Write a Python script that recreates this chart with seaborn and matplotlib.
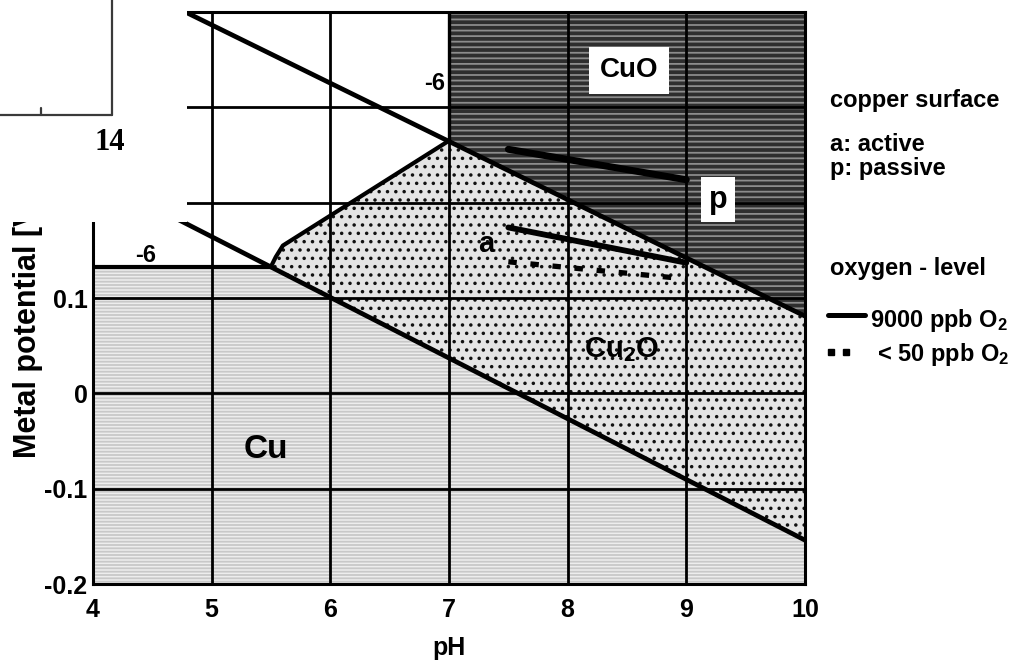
import matplotlib
matplotlib.use("Agg")
import matplotlib.pyplot as plt
from matplotlib.lines import Line2D
from matplotlib.patches import Rectangle
import seaborn as sns

# axis ticks
ph_ticks = [4, 5, 6, 7, 8, 9, 10]
e_ticks = [-0.2, -0.1, 0.0, 0.1, 0.2, 0.3, 0.4]
e_tick_labels = ["-0.2", "-0.1", "0", "0.1", "0.2", "0.3", "0.4"]

# phase boundaries (pH, potential in V)
cu_cu2o_ph = [4.0, 10.0]
cu_cu2o_e = [0.228, -0.154]
cu2o_cuo_ph = [4.5, 10.0]
cu2o_cuo_e = [0.417, 0.081]
cu_ion_ph = [4.0, 5.5]
cu_ion_e = [0.133, 0.133]
cu2o_ion_ph = [5.5, 5.54, 5.6, 7.0]
cu2o_ion_e = [0.133, 0.143, 0.155, 0.265]
cuo_ion_ph = [7.0, 7.0]
cuo_ion_e = [0.265, 0.4]

# measured copper potentials
passive_ph = [7.5, 9.0]
passive_e = [0.256, 0.224]
active_ph = [7.5, 9.0]
active_e = [0.174, 0.137]
active_low_o2_ph = [7.5, 9.0]
active_low_o2_e = [0.138, 0.120]

W, H = 1036, 672
sns.set_theme(style="white")
plt.rcParams["font.family"] = ["Liberation Sans", "DejaVu Sans"]
plt.rcParams["font.weight"] = "bold"
plt.rcParams["axes.labelweight"] = "bold"
plt.rcParams["mathtext.default"] = "regular"
plt.rcParams["hatch.linewidth"] = 1.3
for key in ("text.color", "axes.labelcolor", "xtick.color", "ytick.color"):
    plt.rcParams[key] = "black"

fig = plt.figure(figsize=(W / 100, H / 100), dpi=100)
ax = fig.add_axes([93 / W, (H - 584) / H, 712 / W, 572 / H])
ph_min, ph_max = ph_ticks[0], ph_ticks[-1]
e_min, e_max = e_ticks[0], e_ticks[-1]


def line_at(ph, xs, ys):
    return ys[0] + (ys[1] - ys[0]) * (ph - xs[0]) / (xs[1] - xs[0])


e_a_right = line_at(ph_max, cu2o_cuo_ph, cu2o_cuo_e)
e_b_right = line_at(ph_max, cu_cu2o_ph, cu_cu2o_e)

# Cu stability field
cu_x = [ph_min, cu_ion_ph[0], cu_ion_ph[1], ph_max, ph_max]
cu_y = [e_min, cu_ion_e[0], cu_ion_e[1], e_b_right, e_min]
ax.fill(cu_x, cu_y, facecolor="#ededed", edgecolor="#c8c8c8", hatch="-----",
        lw=0, zorder=0.3)

# Cu2O stability field
cu2o_x = list(cu2o_ion_ph) + [ph_max, ph_max]
cu2o_y = list(cu2o_ion_e) + [e_a_right, e_b_right]
ax.fill(cu2o_x, cu2o_y, facecolor="#e4e4e4", edgecolor="#111111", hatch="..",
        lw=0, zorder=0.3)

# CuO stability field
cuo_x = [cuo_ion_ph[0], cuo_ion_ph[1], ph_max, ph_max]
cuo_y = [cuo_ion_e[0], e_max, e_max, e_a_right]
ax.fill(cuo_x, cuo_y, facecolor="#2e2e2e", edgecolor="#8c8c8c", hatch="---",
        lw=0, zorder=0.3)

ax.set_xlim(ph_min, ph_max)
ax.set_ylim(e_min, e_max)
ax.set_xticks(ph_ticks)
ax.set_yticks(e_ticks)
ax.set_yticklabels(e_tick_labels)
ax.grid(True, color="black", lw=2.0)
ax.set_axisbelow("line")
for s in ax.spines.values():
    s.set_color("black")
    s.set_linewidth(2.2)
ax.tick_params(axis="x", direction="out", length=4, width=1.8, color="black",
               pad=6, labelsize=18)
ax.tick_params(axis="y", length=0, pad=4, labelsize=18)
for lab in ax.get_xticklabels() + ax.get_yticklabels():
    lab.set_fontweight("bold")

# boundary lines
kw = dict(ax=ax, color="black", sort=False, estimator=None, legend=False)
sns.lineplot(x=cu_cu2o_ph, y=cu_cu2o_e, lw=3.4, zorder=3, **kw)
sns.lineplot(x=cu2o_cuo_ph, y=cu2o_cuo_e, lw=3.4, zorder=3, **kw)
sns.lineplot(x=cu_ion_ph, y=cu_ion_e, lw=3.0, zorder=3, **kw)
sns.lineplot(x=cu2o_ion_ph, y=cu2o_ion_e, lw=3.0, zorder=3, **kw)
sns.lineplot(x=cuo_ion_ph, y=cuo_ion_e, lw=2.4, zorder=3, **kw)

# measured potentials
sns.lineplot(x=passive_ph, y=passive_e, lw=5.0, zorder=4, **kw)
sns.lineplot(x=active_ph, y=active_e, lw=4.2, zorder=4, **kw)
ax.plot(active_low_o2_ph, active_low_o2_e, color="black", lw=3.8,
        linestyle=(0, (1.6, 2.6)), zorder=4)

# field labels
ax.text(8.515, 0.339, "CuO", ha="center", va="center", fontsize=20, zorder=5,
        bbox=dict(boxstyle="square,pad=0.38", facecolor="white", edgecolor="none"))
ax.text(9.266, 0.203, "p", ha="center", va="center", fontsize=22, zorder=5,
        bbox=dict(boxstyle="square,pad=0.25", facecolor="white", edgecolor="none"))
ax.text(7.316, 0.157, "a", ha="center", va="center", fontsize=21, zorder=5)
ax.text(8.456, 0.046, "Cu$_2$O", ha="center", va="center", fontsize=21, zorder=5)
ax.text(5.46, -0.059, "Cu", ha="center", va="center", fontsize=24, zorder=5)
ax.text(4.447, 0.145, "-6", ha="center", va="center", fontsize=17, zorder=5)
ax.text(6.878, 0.325, "-6", ha="center", va="center", fontsize=17, zorder=5)

ax.set_xlabel("pH", fontsize=18, labelpad=10)
ax.set_ylabel("Metal potential [V]", fontsize=22)
ax.yaxis.set_label_coords(-0.07, 0.45)


def fx(px):
    return px / W


def fy(py):
    return 1 - py / H


# side notes
note = dict(fontsize=17, ha="left", va="baseline", transform=fig.transFigure)
fig.text(fx(830), fy(107), "copper surface", **note)
fig.text(fx(830), fy(151), "a: active", **note)
fig.text(fx(830), fy(175), "p: passive", **note)
fig.text(fx(830), fy(275), "oxygen - level", **note)
fig.text(fx(870), fy(327), "9000 ppb O$_2$", **note)
fig.text(fx(877), fy(361), "< 50 ppb O$_2$", **note)
fig.add_artist(Line2D([fx(828), fx(865)], [fy(315), fy(315)], color="black", lw=3.6))
fig.add_artist(Line2D([fx(831), fx(846)], [fy(352), fy(352)], color="black",
                      marker="s", markersize=5, linestyle="none"))

# pasted corner of a neighbouring figure
fig.add_artist(Rectangle((0, fy(222)), fx(187), 222 / H, transform=fig.transFigure,
                         facecolor="white", edgecolor="none", zorder=10))
corner = dict(color="#3a3a3a", lw=1.6, zorder=11)
fig.add_artist(Line2D([fx(112), fx(112)], [fy(0), fy(115)], **corner))
fig.add_artist(Line2D([fx(0), fx(112)], [fy(115), fy(115)], **corner))
fig.add_artist(Line2D([fx(41), fx(41)], [fy(108), fy(115)], **corner))
fig.text(fx(110), fy(142), "14", fontsize=22, fontweight="bold", ha="center",
         va="center", family="Liberation Serif", zorder=12)

fig.savefig("out.png", dpi=100)
